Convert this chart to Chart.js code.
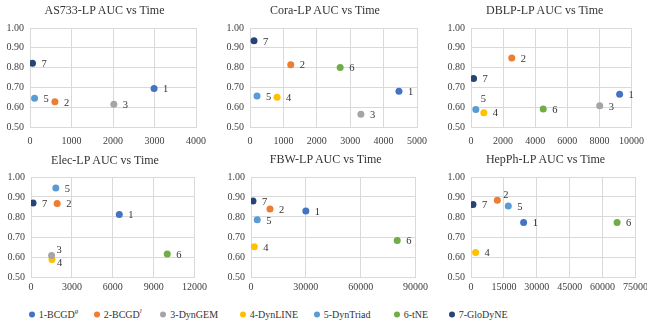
<!DOCTYPE html>
<html>
<head>
<meta charset="utf-8">
<script src="https://cdn.jsdelivr.net/npm/chart.js@4/dist/chart.umd.min.js"></script>
<style>
  body { margin: 0; background: #fff; font-family: "Liberation Serif", serif; }
  #wrap { position: relative; width: 647px; height: 328px; overflow: hidden; background: #fff; }
  .panel { position: absolute; overflow: hidden; }
  .panel canvas { position: absolute; }
  .title { position: absolute; font-size: 12px; color: #333; white-space: nowrap; transform: translate(-50%, -50%); }
  .leg { position: absolute; top: 314px; transform: translateY(-50%); display: flex; align-items: center; font-size: 10px; color: #333; white-space: nowrap; }
  .leg i.dot { display: inline-block; width: 6px; height: 6px; border-radius: 50%; margin-left: -3px; margin-right: 4px; }
  .leg sup { font-size: 7px; font-style: italic; line-height: 0; }
</style>
</head>
<body>
<div id="wrap"></div>
<script>
// 方法名称与颜色
const methods = ['1-BCGD', '2-BCGD', '3-DynGEM', '4-DynLINE', '5-DynTriad', '6-tNE', '7-GloDyNE'];
const methodSup = ['g', 'l', '', '', '', '', ''];
const colors = ['#4472C4', '#ED7D31', '#A5A5A5', '#FFC000', '#5B9BD5', '#70AD47', '#264478'];

// 每个数据集: 运行时间 (x) 和 AUC (y), null 表示无结果
const as733Time = [2990, 600, 2020, null, 110, null, 60];
const as733Auc  = [0.695, 0.627, 0.615, null, 0.645, null, 0.822];

const coraTime = [4460, 1220, 3320, 810, 210, 2700, 120];
const coraAuc  = [0.680, 0.815, 0.565, 0.650, 0.657, 0.800, 0.935];

const dblpTime = [9260, 2540, 8020, 800, 300, 4500, 160];
const dblpAuc  = [0.665, 0.848, 0.607, 0.572, 0.588, 0.591, 0.745];

const elecTime = [6480, 1920, 1510, 1540, 1820, 10000, 150];
const elecAuc  = [0.813, 0.868, 0.607, 0.588, 0.945, 0.615, 0.870];

const fbwTime = [30000, 10400, null, 1800, 3400, 80000, 1080];
const fbwAuc  = [0.830, 0.840, null, 0.651, 0.786, 0.683, 0.880];

const hepphTime = [24000, 12000, null, 2100, 17000, 66600, 900];
const hepphAuc  = [0.772, 0.884, null, 0.622, 0.855, 0.773, 0.862];

// 坐标轴刻度
const xMaxes = [4000, 5000, 10000, 12000, 90000, 75000];
const xSteps = [1000, 1000, 2000, 3000, 15000, 15000];
const yMin = 0.5, yMax = 1.0, yStep = 0.1;

const titles = ['AS733-LP AUC vs Time', 'Cora-LP AUC vs Time', 'DBLP-LP AUC vs Time',
                'Elec-LP AUC vs Time', 'FBW-LP AUC vs Time', 'HepPh-LP AUC vs Time'];
const times = [as733Time, coraTime, dblpTime, elecTime, fbwTime, hepphTime];
const aucs  = [as733Auc, coraAuc, dblpAuc, elecAuc, fbwAuc, hepphAuc];

// 布局: 面板框, 绘图区 [左, 上, 右, 下], 标题中心, x 刻度间距
const layout = [
  { box: [0, 0, 216, 150],   plot: [30, 24, 200, 127], title: [104.5, 10], xPad: 8 },
  { box: [216, 0, 215, 150], plot: [34, 24, 205, 127], title: [109, 10], xPad: 8 },
  { box: [431, 0, 216, 150], plot: [40, 24, 207, 127], title: [113.7, 10], xPad: 8 },
  { box: [0, 140, 216, 160],   plot: [31, 33, 197, 137], title: [105, 20], xPad: 4 },
  { box: [216, 140, 215, 160], plot: [35, 33, 202, 137], title: [109.7, 19], xPad: 4 },
  { box: [431, 140, 216, 160], plot: [40, 33, 207, 137], title: [114.5, 19], xPad: 4 }
];

// 数据标签偏移 (默认在右侧)
const labelShift = {
  '2:4': [5, -10], '3:2': [5, -5], '3:3': [5, 4], '5:1': [6, -5]
};

const PAD_TOP = 8, PAD_RIGHT = 14, Y_W = 30;

const pointLabels = {
  id: 'pointLabels',
  afterDatasetsDraw(chart) {
    const ctx = chart.ctx;
    const p = chart.options.plugins.pointLabels.panel;
    ctx.save();
    ctx.font = '10.5px "Liberation Serif"';
    ctx.fillStyle = '#333';
    ctx.textBaseline = 'middle';
    chart.data.datasets.forEach((ds, i) => {
      const el = chart.getDatasetMeta(i).data[0];
      if (!el || ds.data[0].y == null) return;
      const s = labelShift[p + ':' + i] || [9, 1];
      ctx.fillText(String(i + 1), el.x + s[0], el.y + s[1]);
    });
    ctx.restore();
  }
};

const wrap = document.getElementById('wrap');

function initCharts() {
  layout.forEach((lay, p) => {
    const div = document.createElement('div');
    div.className = 'panel';
    div.style.left = lay.box[0] + 'px';
    div.style.top = lay.box[1] + 'px';
    div.style.width = lay.box[2] + 'px';
    div.style.height = lay.box[3] + 'px';

    const t = document.createElement('div');
    t.className = 'title';
    t.textContent = titles[p];
    t.style.left = lay.title[0] + 'px';
    t.style.top = lay.title[1] + 'px';

    const [l, top, r, b] = lay.plot;
    const xH = lay.xPad + 16;
    const cv = document.createElement('canvas');
    const cl = l - Y_W, ct = top - PAD_TOP;
    cv.width = r - cl + PAD_RIGHT;
    cv.height = b - ct + xH;
    cv.style.left = cl + 'px';
    cv.style.top = ct + 'px';
    div.appendChild(cv);
    div.appendChild(t);
    wrap.appendChild(div);

    const datasets = methods.map((m, i) => ({
      label: m,
      data: [{ x: times[p][i], y: aucs[p][i] }],
      backgroundColor: colors[i],
      borderColor: colors[i],
      pointRadius: 3.5,
      borderWidth: 0
    }));

    new Chart(cv, {
      type: 'scatter',
      data: { datasets },
      options: {
        responsive: false,
        animation: false,
        devicePixelRatio: 1,
        layout: { padding: { top: PAD_TOP, right: PAD_RIGHT, left: 0, bottom: 0 } },
        plugins: {
          legend: { display: false },
          tooltip: { enabled: false },
          pointLabels: { panel: p }
        },
        scales: {
          x: {
            type: 'linear',
            min: 0,
            max: xMaxes[p],
            ticks: {
              stepSize: xSteps[p],
              callback: v => String(v),
              font: { family: 'Liberation Serif', size: 10 },
              color: '#404040',
              padding: lay.xPad,
              maxRotation: 0
            },
            grid: { color: '#D9D9D9', drawTicks: false },
            border: { color: '#D9D9D9' },
            afterFit: s => { s.height = xH; }
          },
          y: {
            min: yMin,
            max: yMax,
            ticks: {
              stepSize: yStep,
              callback: v => v.toFixed(2),
              font: { family: 'Liberation Serif', size: 10 },
              color: '#404040',
              padding: 6
            },
            grid: { color: '#D9D9D9', drawTicks: false },
            border: { color: '#D9D9D9' },
            afterFit: s => { s.width = Y_W; }
          }
        }
      },
      plugins: [pointLabels]
    });
  });
}

// 图例
const legendX = [31.7, 96.7, 163.3, 242.7, 316.7, 396.7, 451.7];
function initLegend() {
  methods.forEach((m, i) => {
    const item = document.createElement('div');
    item.className = 'leg';
    item.style.left = legendX[i] + 'px';
    item.innerHTML = '<i class="dot" style="background:' + colors[i] + '"></i><span>' + m +
      (methodSup[i] ? '<sup>' + methodSup[i] + '</sup>' : '') + '</span>';
    wrap.appendChild(item);
  });
}

initCharts();
initLegend();
</script>
</body>
</html>
